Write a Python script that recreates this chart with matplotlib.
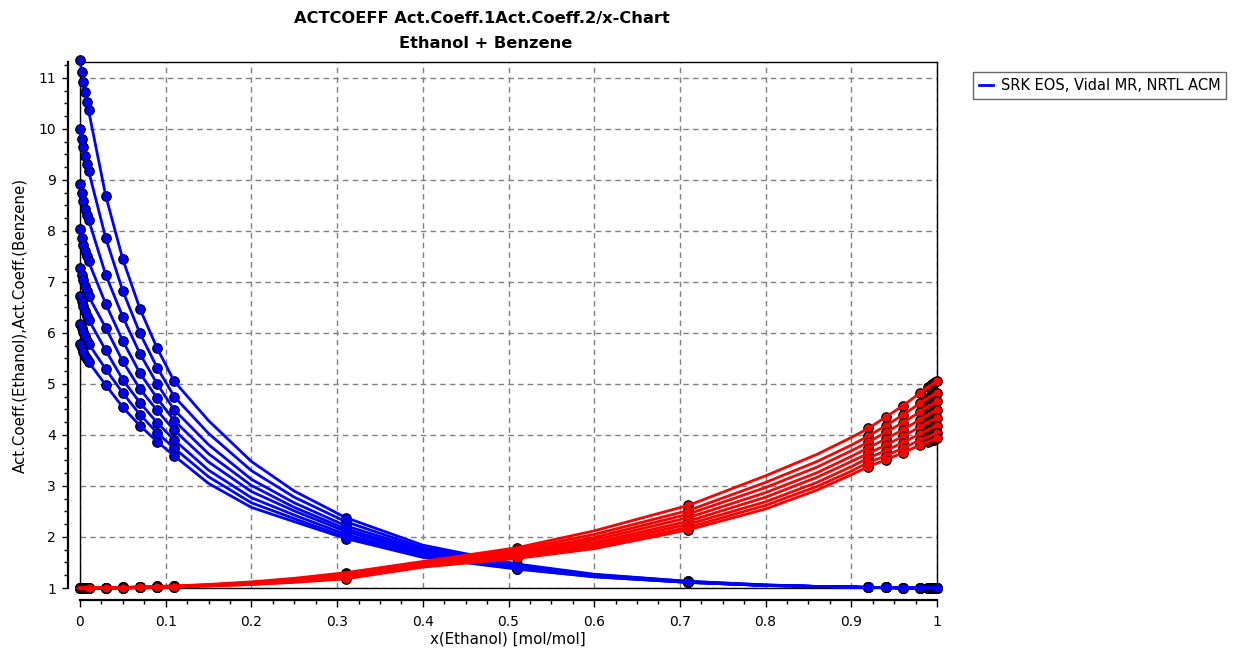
import numpy as np
import matplotlib
matplotlib.use("Agg")
import matplotlib.pyplot as plt
from matplotlib.lines import Line2D
from matplotlib.ticker import MultipleLocator

plt.rcParams['font.family'] = ['DejaVu Sans']

# ------------------------------------------
# data (8 isotherms, highest gamma first)
# ------------------------------------------
x_line = [0, 0.002, 0.004, 0.006, 0.008, 0.01, 0.03, 0.05, 0.07, 0.09, 0.11,
          0.15, 0.2, 0.25, 0.31, 0.4, 0.51, 0.6, 0.71, 0.8, 0.86, 0.9,
          0.92, 0.94, 0.96, 0.98, 0.99, 0.992, 0.994, 0.996, 0.998, 1.0]

# x values that carry a data marker
x_marked = [0, 0.002, 0.004, 0.006, 0.008, 0.01, 0.03, 0.05, 0.07, 0.09, 0.11,
            0.31, 0.51, 0.71, 0.92, 0.94, 0.96, 0.98,
            0.99, 0.992, 0.994, 0.996, 0.998, 1.0]

# Act.Coeff.(Ethanol), one row per x_line value, one column per isotherm
ethanol_by_x = [
    [11.35, 9.99, 8.91, 8.03, 7.27, 6.72, 6.18, 5.79],
    [11.12, 9.81, 8.75, 7.86, 7.14, 6.62, 6.09, 5.70],
    [10.92, 9.64, 8.58, 7.73, 7.03, 6.52, 6.01, 5.63],
    [10.72, 9.47, 8.42, 7.60, 6.91, 6.42, 5.93, 5.55],
    [10.52, 9.32, 8.32, 7.50, 6.82, 6.34, 5.85, 5.49],
    [10.36, 9.18, 8.22, 7.40, 6.72, 6.26, 5.79, 5.43],
    [8.69, 7.86, 7.14, 6.57, 6.10, 5.66, 5.29, 4.98],
    [7.44, 6.82, 6.31, 5.84, 5.44, 5.08, 4.82, 4.54],
    [6.47, 5.99, 5.59, 5.21, 4.90, 4.63, 4.40, 4.18],
    [5.70, 5.32, 5.00, 4.72, 4.48, 4.24, 4.04, 3.87],
    [5.05, 4.75, 4.49, 4.28, 4.09, 3.90, 3.74, 3.59],
    [4.28, 4.03, 3.81, 3.63, 3.47, 3.31, 3.18, 3.05],
    [3.48, 3.30, 3.13, 3.01, 2.89, 2.77, 2.67, 2.58],
    [2.90, 2.78, 2.67, 2.58, 2.51, 2.43, 2.36, 2.30],
    [2.38, 2.30, 2.22, 2.16, 2.11, 2.05, 2.00, 1.97],
    [1.84, 1.79, 1.75, 1.71, 1.68, 1.65, 1.62, 1.60],
    [1.47, 1.45, 1.43, 1.42, 1.41, 1.39, 1.38, 1.37],
    [1.27, 1.26, 1.25, 1.25, 1.24, 1.23, 1.22, 1.22],
    [1.13, 1.13, 1.12, 1.12, 1.12, 1.11, 1.11, 1.11],
    [1.06, 1.06, 1.05, 1.05, 1.05, 1.05, 1.05, 1.05],
    [1.03, 1.03, 1.03, 1.03, 1.03, 1.03, 1.03, 1.03],
    [1.02, 1.02, 1.02, 1.02, 1.02, 1.02, 1.02, 1.02],
    [1.01, 1.01, 1.01, 1.01, 1.01, 1.01, 1.01, 1.01],
    [1.01, 1.01, 1.01, 1.01, 1.01, 1.01, 1.01, 1.01],
    [1.00, 1.00, 1.00, 1.00, 1.00, 1.00, 1.00, 1.00],
    [1.00, 1.00, 1.00, 1.00, 1.00, 1.00, 1.00, 1.00],
    [1.00, 1.00, 1.00, 1.00, 1.00, 1.00, 1.00, 1.00],
    [1.00, 1.00, 1.00, 1.00, 1.00, 1.00, 1.00, 1.00],
    [1.00, 1.00, 1.00, 1.00, 1.00, 1.00, 1.00, 1.00],
    [1.00, 1.00, 1.00, 1.00, 1.00, 1.00, 1.00, 1.00],
    [1.00, 1.00, 1.00, 1.00, 1.00, 1.00, 1.00, 1.00],
    [1.00, 1.00, 1.00, 1.00, 1.00, 1.00, 1.00, 1.00],
]

# Act.Coeff.(Benzene), same layout
benzene_by_x = [
    [1.00, 1.00, 1.00, 1.00, 1.00, 1.00, 1.00, 1.00],
    [1.00, 1.00, 1.00, 1.00, 1.00, 1.00, 1.00, 1.00],
    [1.00, 1.00, 1.00, 1.00, 1.00, 1.00, 1.00, 1.00],
    [1.00, 1.00, 1.00, 1.00, 1.00, 1.00, 1.00, 1.00],
    [1.00, 1.00, 1.00, 1.00, 1.00, 1.00, 1.00, 1.00],
    [1.00, 1.00, 1.00, 1.00, 1.00, 1.00, 1.00, 1.00],
    [1.00, 1.00, 1.00, 1.00, 1.00, 1.00, 1.00, 1.00],
    [1.01, 1.01, 1.01, 1.00, 1.00, 1.00, 1.00, 1.00],
    [1.02, 1.02, 1.02, 1.01, 1.01, 1.01, 1.01, 1.01],
    [1.03, 1.03, 1.02, 1.02, 1.02, 1.02, 1.01, 1.01],
    [1.04, 1.04, 1.03, 1.03, 1.03, 1.02, 1.02, 1.02],
    [1.07, 1.06, 1.06, 1.05, 1.05, 1.05, 1.04, 1.04],
    [1.12, 1.11, 1.10, 1.09, 1.09, 1.08, 1.07, 1.07],
    [1.19, 1.17, 1.16, 1.15, 1.14, 1.13, 1.12, 1.11],
    [1.30, 1.28, 1.26, 1.24, 1.22, 1.21, 1.19, 1.18],
    [1.52, 1.50, 1.48, 1.46, 1.45, 1.43, 1.42, 1.41],
    [1.79, 1.75, 1.71, 1.68, 1.65, 1.63, 1.60, 1.58],
    [2.12, 2.05, 1.99, 1.94, 1.89, 1.85, 1.81, 1.77],
    [2.62, 2.52, 2.45, 2.38, 2.31, 2.25, 2.19, 2.14],
    [3.20, 3.07, 2.97, 2.87, 2.78, 2.69, 2.62, 2.55],
    [3.62, 3.48, 3.37, 3.26, 3.17, 3.07, 2.99, 2.92],
    [3.95, 3.80, 3.69, 3.58, 3.48, 3.38, 3.29, 3.22],
    [4.13, 3.98, 3.86, 3.75, 3.64, 3.55, 3.46, 3.38],
    [4.35, 4.18, 4.05, 3.92, 3.80, 3.69, 3.59, 3.51],
    [4.57, 4.39, 4.24, 4.10, 3.97, 3.85, 3.74, 3.65],
    [4.82, 4.62, 4.45, 4.30, 4.16, 4.02, 3.90, 3.80],
    [4.94, 4.73, 4.56, 4.40, 4.25, 4.10, 3.97, 3.87],
    [4.96, 4.75, 4.58, 4.42, 4.27, 4.12, 3.98, 3.88],
    [4.99, 4.77, 4.60, 4.44, 4.29, 4.14, 4.00, 3.90],
    [5.01, 4.79, 4.62, 4.46, 4.30, 4.15, 4.01, 3.91],
    [5.03, 4.81, 4.64, 4.47, 4.32, 4.17, 4.03, 3.93],
    [5.05, 4.83, 4.66, 4.49, 4.33, 4.18, 4.04, 3.94],
]

legend_label = 'SRK EOS, Vidal MR, NRTL ACM'
title_lines = ['ACTCOEFF Act.Coeff.1Act.Coeff.2/x-Chart', 'Ethanol + Benzene']
x_label = 'x(Ethanol) [mol/mol]'
y_label = 'Act.Coeff.(Ethanol),Act.Coeff.(Benzene)'
x_ticks = [0, 0.1, 0.2, 0.3, 0.4, 0.5, 0.6, 0.7, 0.8, 0.9, 1.0]
x_ticklabels = ['0', '0.1', '0.2', '0.3', '0.4', '0.5', '0.6', '0.7', '0.8', '0.9', '1']
y_ticks = [1, 2, 3, 4, 5, 6, 7, 8, 9, 10, 11]

'''
///////////////////////////////////////////////////////////
'''
W, H = 1233, 655
PX = 72 / 100  # points per pixel at dpi 100
fig = plt.figure(figsize=(W / 100, H / 100), dpi=100)
ax = fig.add_axes([80 / W, 1 - 588 / H, 857 / W, 526 / H])

xl = np.array(x_line)
act1 = np.array(ethanol_by_x).T
act2 = np.array(benzene_by_x).T
mark = np.isin(np.round(xl, 4), np.round(x_marked, 4))

# markers first, model lines drawn over them
for curves, col in ((act1, '#0000ff'), (act2, '#ff0000')):
    for k in range(curves.shape[0]):
        ax.plot(xl[mark], curves[k][mark], 'o', ms=6.8, mfc=col, mec='black',
                mew=0.9, clip_on=False, zorder=3)
for curves, col in ((act1, '#0000ff'), (act2, '#ff0000')):
    for k in range(curves.shape[0]):
        ax.plot(xl, curves[k], '-', color=col, lw=2.0, clip_on=False, zorder=4)

ax.set_xlim(0, 1)
ax.set_ylim(1, 11.31)

# axes lines drawn 12 px apart from the plot box
ax.spines['left'].set_position(('outward', 12 * PX))
ax.spines['bottom'].set_position(('outward', 12 * PX))
ax.spines['left'].set_linewidth(1.6)
ax.spines['bottom'].set_linewidth(1.6)
ax.spines['top'].set_linewidth(1.0)
ax.spines['right'].set_linewidth(1.0)
ax.plot([0, 0], [0, 1], transform=ax.transAxes, color='black', lw=1.0, clip_on=False, zorder=2)
ax.plot([0, 1], [0, 0], transform=ax.transAxes, color='black', lw=1.0, clip_on=False, zorder=2)

ax.set_xticks(x_ticks)
ax.set_xticklabels(x_ticklabels)
ax.set_yticks(y_ticks)
ax.xaxis.set_minor_locator(MultipleLocator(0.025))
ax.yaxis.set_minor_locator(MultipleLocator(0.25))
ax.tick_params(which='major', length=5 * PX * 1.3, width=1, labelsize=10, colors='black')
ax.tick_params(axis='x', which='major', pad=6)
ax.tick_params(axis='y', which='major', pad=4)
ax.tick_params(which='minor', length=3 * PX * 1.3, width=1)

ax.grid(True, which='major', color='#808080', ls=(0, (4, 3)), lw=1.0)
ax.set_axisbelow(True)

fig.text(508 / W, 1 - 639 / H, x_label, fontsize=10.8, ha='center', va='center')
fig.text(20 / W, 1 - 325 / H, y_label, rotation=90, fontsize=10.8,
         ha='center', va='center')

fig.text(482 / W, 1 - 18 / H, title_lines[0], fontsize=11.7, fontweight='bold',
         ha='center', va='center')
fig.text(486 / W, 1 - 43 / H, title_lines[1], fontsize=11.7, fontweight='bold',
         ha='center', va='center')

handle = Line2D([], [], color='#0000ff', lw=2)
leg = fig.legend([handle], [legend_label], loc='upper left',
                 bbox_to_anchor=(973 / W, 1 - 72 / H), fontsize=10.5,
                 fancybox=False, edgecolor='#404040', handlelength=1.0,
                 handletextpad=0.5, borderpad=0.4, borderaxespad=0)
leg.get_frame().set_linewidth(1.0)

plt.savefig('out.png', dpi=100)
